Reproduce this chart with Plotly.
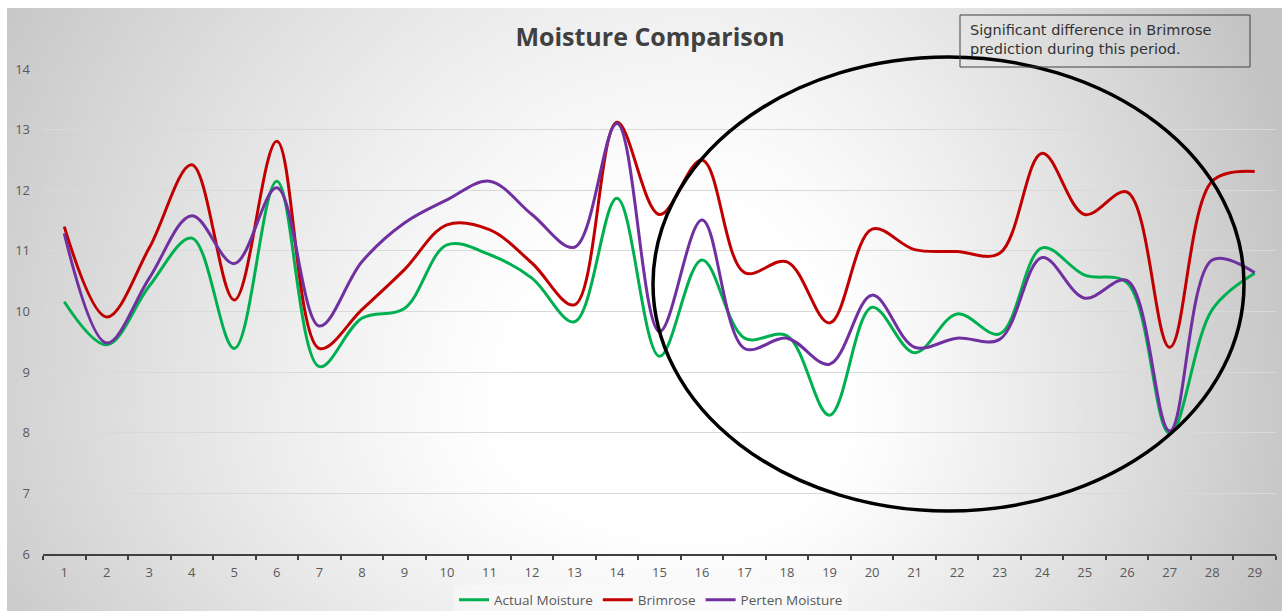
import base64
import struct
import zlib

import plotly.graph_objects as go

# ---------------- data ----------------
categories = [str(i) for i in range(1, 30)]
actual_moisture = [10.16, 9.45, 10.42, 11.21, 9.39, 12.15, 9.09, 9.89, 10.05, 11.10,
                   10.94, 10.55, 9.83, 11.87, 9.26, 10.85, 9.56, 9.60, 8.29, 10.07,
                   9.32, 9.96, 9.63, 11.05, 10.60, 10.47, 7.99, 10.03, 10.63]
brimrose = [11.40, 9.91, 11.05, 12.42, 10.19, 12.81, 9.39, 10.03, 10.69, 11.43,
            11.35, 10.80, 10.11, 13.12, 11.60, 12.50, 10.64, 10.82, 9.81, 11.36,
            11.02, 10.99, 10.96, 12.61, 11.60, 11.97, 9.41, 12.15, 12.31]
perten_moisture = [11.29, 9.48, 10.55, 11.58, 10.79, 12.04, 9.76, 10.82, 11.46, 11.84,
                   12.15, 11.60, 11.06, 13.10, 9.67, 11.51, 9.39, 9.56, 9.13, 10.27,
                   9.41, 9.56, 9.54, 10.89, 10.22, 10.51, 8.03, 10.85, 10.64]
y_ticks = [6, 7, 8, 9, 10, 11, 12, 13, 14]

# ---------------- layout geometry (pixels) ----------------
FIG_W, FIG_H = 1282, 611
PL, PR, PT, PB = 43, 1276, 69, 554  # plot area edges
PW, PH = PR - PL, PB - PT


def px_to_paper_x(px):
    return (px - PL) / PW


def px_to_paper_y(py):
    return (PB - py) / PH


# ---------------- radial gradient background as PNG ----------------
def gradient_png(w, h, x0, y0, x1, y1):
    cx, cy = 700.0, 420.0
    rows = []
    for j in range(h):
        py = y0 + (j + 0.5) * (y1 - y0) / h
        row = bytearray([0])
        for i in range(w):
            px = x0 + (i + 0.5) * (x1 - x0) / w
            ax = 760.0 if px < cx else 560.0
            ay = 800.0 if py < cy else 450.0
            r = (((px - cx) / ax) ** 2 + ((py - cy) / ay) ** 2) ** 0.5
            t = max(0.0, min(1.0, (r - 0.25) / 0.85))
            g = int(round(255 - 60 * t ** 1.2))
            row.append(g)
        rows.append(bytes(row))
    raw = b"".join(rows)

    def chunk(tag, data):
        c = tag + data
        return struct.pack(">I", len(data)) + c + struct.pack(">I", zlib.crc32(c) & 0xFFFFFFFF)

    png = b"\x89PNG\r\n\x1a\n"
    png += chunk(b"IHDR", struct.pack(">IIBBBBB", w, h, 8, 0, 0, 0, 0))
    png += chunk(b"IDAT", zlib.compress(raw, 9))
    png += chunk(b"IEND", b"")
    return "data:image/png;base64," + base64.b64encode(png).decode()


BG_X0, BG_Y0, BG_X1, BG_Y1 = 7, 8, 1282, 611
bg_src = gradient_png(320, 150, BG_X0, BG_Y0, BG_X1, BG_Y1)

# ---------------- figure ----------------
GREEN, RED, PURPLE = "#00b050", "#c00000", "#7030a0"
FONT = "Open Sans"

fig = go.Figure()
for name, vals, col in [("Actual Moisture", actual_moisture, GREEN),
                        ("Brimrose", brimrose, RED),
                        ("Perten Moisture", perten_moisture, PURPLE)]:
    fig.add_trace(go.Scatter(
        x=categories, y=vals, name=name, mode="lines",
        line=dict(color=col, width=3, shape="spline", smoothing=1.0),
    ))

fig.update_layout(
    width=FIG_W, height=FIG_H,
    margin=dict(l=PL, r=FIG_W - PR, t=PT, b=FIG_H - PB, pad=0, autoexpand=False),
    paper_bgcolor="white",
    plot_bgcolor="rgba(0,0,0,0)",
    font=dict(family=FONT, color="#595959", size=13),
    title=dict(text="<b>Moisture Comparison</b>", x=650 / FIG_W, xanchor="center",
               y=1 - 37 / FIG_H, yanchor="middle", yref="container",
               font=dict(family=FONT, size=25, color="#404040")),
    showlegend=True,
    legend=dict(orientation="h", x=651 / FIG_W, xanchor="center", xref="container",
                y=1 - 600 / FIG_H, yanchor="middle", yref="container",
                bgcolor="rgba(255,255,255,0.35)",
                font=dict(family=FONT, size=13.5, color="#595959"),
                itemwidth=30, tracegroupgap=0),
    xaxis=dict(type="category", range=[-0.5, 28.5], showgrid=False,
               showline=True, linecolor="#404040", linewidth=2,
               ticks="outside", tickson="boundaries", ticklen=4, tickwidth=1.5,
               tickcolor="#404040", tickfont=dict(size=13, color="#595959"),
               ticklabelstandoff=5,
               zeroline=False, fixedrange=True, automargin=False),
    yaxis=dict(range=[6, 14], tickvals=y_ticks, showgrid=True, gridcolor="#d9d9d9",
               gridwidth=1, showline=False, zeroline=False, ticks="",
               ticklabelstandoff=12, tickfont=dict(size=13, color="#595959"),
               fixedrange=True, automargin=False),
    images=[dict(source=bg_src, xref="paper", yref="paper",
                 x=px_to_paper_x(BG_X0), y=px_to_paper_y(BG_Y0),
                 sizex=(BG_X1 - BG_X0) / PW, sizey=(BG_Y1 - BG_Y0) / PH,
                 xanchor="left", yanchor="top", sizing="stretch", layer="below")],
    shapes=[
        # highlight ellipse
        dict(type="circle", xref="paper", yref="paper",
             x0=px_to_paper_x(653), x1=px_to_paper_x(1244),
             y0=px_to_paper_y(511), y1=px_to_paper_y(57),
             line=dict(color="black", width=3.5), fillcolor="rgba(0,0,0,0)"),
        # note box
        dict(type="rect", xref="paper", yref="paper",
             x0=px_to_paper_x(960), x1=px_to_paper_x(1250),
             y0=px_to_paper_y(67), y1=px_to_paper_y(15),
             line=dict(color="#404040", width=1), fillcolor="rgba(0,0,0,0)"),
    ],
    annotations=[dict(
        text="Significant difference in Brimrose<br>prediction during this period.",
        xref="paper", yref="paper", x=px_to_paper_x(968), y=px_to_paper_y(39),
        xanchor="left", yanchor="middle", align="left", showarrow=False,
        font=dict(family="DejaVu Sans", size=14.5, color="#333333"),
    )],
)

fig.write_html("out.html")
